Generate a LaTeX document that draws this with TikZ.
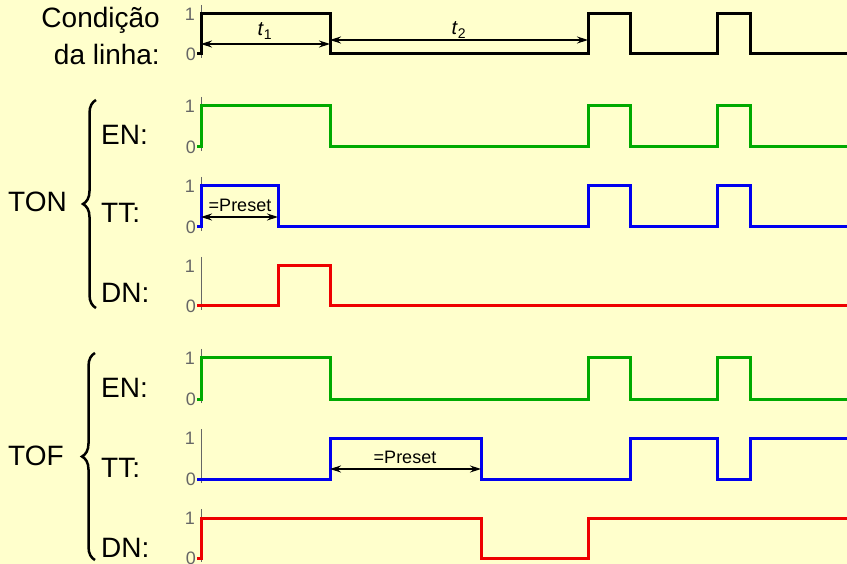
\documentclass[tikz,border=0pt]{standalone}
\usepackage{fontspec}
\setmainfont{Liberation Sans}
\usetikzlibrary{arrows.meta,decorations.pathreplacing}
\definecolor{paper}{HTML}{FFFFCC}
\definecolor{sigGreen}{HTML}{00AA00}
\definecolor{sigBlue}{HTML}{0000EE}
\definecolor{sigRed}{HTML}{EE0000}
\definecolor{axisGray}{HTML}{666666}

% vertical reference axis with its 0/1 levels: #1 = high y, #2 = low y
\newcommand\levelaxis[2]{%
  \draw[axisline] (201,#1-9) -- (201,#2+4);
  \node[level] at (195,#1) {1};
  \node[level] at (196,#2) {0};
}

\begin{document}
\begin{tikzpicture}[x=1pt,y=-1pt,
  wave/.style={line width=3pt, line join=miter},
  axisline/.style={axisGray, line width=0.8pt},
  level/.style={axisGray, font=\fontsize{18}{18}\selectfont, anchor=east, inner sep=0pt},
  siglabel/.style={font=\fontsize{28}{30}\selectfont, anchor=base west, inner sep=0pt},
  grouplabel/.style={font=\fontsize{28}{30}\selectfont, anchor=base west, inner sep=0pt},
  span/.style={{Stealth[length=11pt,width=7pt]}-{Stealth[length=11pt,width=7pt]}, line width=1.2pt},
  spanlabel/.style={font=\fontsize{18}{18}\selectfont, inner sep=1pt},
  groupbrace/.style={decorate, decoration={brace, amplitude=13pt}, line width=2.5pt}
]
\useasboundingbox (0,0) rectangle (847,564);
\fill[paper] (0,0) rectangle (847,564);

% ---------- line condition ----------
\node[font=\fontsize{28}{30}\selectfont, anchor=base east, inner sep=0pt] (cond1) at (160,28) {Condição};
\node[font=\fontsize{28}{30}\selectfont, anchor=base east, inner sep=0pt] (cond2) at (160,65) {da linha:};
\levelaxis{14}{54}
\draw[wave, black] (197,54) -- (201,54) -- (201,14) -- (330,14) -- (330,54) -- (588,54) -- (588,14)
  -- (630,14) -- (630,54) -- (717,54) -- (717,14) -- (750,14) -- (750,54) -- (847,54);
\coordinate (t1a) at (201,44);
\coordinate (t1b) at (330,44);
\coordinate (t2a) at (330,40);
\coordinate (t2b) at (588,40);
\draw[span] (t1a) -- (t1b);
\draw[span] (t2a) -- (t2b);
\node[spanlabel, font=\fontsize{20}{20}\selectfont] (t1) at (265,31) {\textit{t}\textsubscript{1}};
\node[spanlabel, font=\fontsize{20}{20}\selectfont] (t2) at (459,30) {\textit{t}\textsubscript{2}};

% ---------- TON ----------
\node[grouplabel] (ton) at (8,212) {TON};
\draw[groupbrace] (96,308) -- (96,100);
\node[siglabel] (tonEN) at (101,145) {EN:};
\node[siglabel] (tonTT) at (101,223) {TT:};
\node[siglabel] (tonDN) at (101,303) {DN:};

\levelaxis{106}{147}
\draw[wave, sigGreen] (197,147) -- (201,147) -- (201,106) -- (330,106) -- (330,147) -- (588,147) -- (588,106)
  -- (630,106) -- (630,147) -- (717,147) -- (717,106) -- (750,106) -- (750,147) -- (847,147);

\levelaxis{186}{227}
\draw[wave, sigBlue] (197,227) -- (201,227) -- (201,186) -- (278,186) -- (278,227) -- (588,227) -- (588,186)
  -- (630,186) -- (630,227) -- (717,227) -- (717,186) -- (750,186) -- (750,227) -- (847,227);
\coordinate (tonPa) at (201,217);
\coordinate (tonPb) at (278,217);
\draw[span] (tonPa) -- (tonPb);
\node[spanlabel] (tonP) at (240,205) {=Preset};

\levelaxis{266}{306}
\draw[wave, sigRed] (197,306) -- (278,306) -- (278,266) -- (330,266) -- (330,306) -- (847,306);

% ---------- TOF ----------
\node[grouplabel] (tof) at (8,465) {TOF};
\draw[groupbrace] (95,560) -- (95,353);
\node[siglabel] (tofEN) at (101,397) {EN:};
\node[siglabel] (tofTT) at (101,477) {TT:};
\node[siglabel] (tofDN) at (101,557) {DN:};

\levelaxis{358}{399}
\draw[wave, sigGreen] (197,399) -- (201,399) -- (201,358) -- (330,358) -- (330,399) -- (588,399) -- (588,358)
  -- (630,358) -- (630,399) -- (717,399) -- (717,358) -- (750,358) -- (750,399) -- (847,399);

\levelaxis{438}{479}
\draw[wave, sigBlue] (197,479) -- (330,479) -- (330,438) -- (481,438) -- (481,479) -- (630,479) -- (630,438)
  -- (717,438) -- (717,479) -- (750,479) -- (750,438) -- (847,438);
\coordinate (tofPa) at (330,469);
\coordinate (tofPb) at (481,469);
\draw[span] (tofPa) -- (tofPb);
\node[spanlabel] (tofP) at (405,457) {=Preset};

\levelaxis{518}{558}
\draw[wave, sigRed] (197,558) -- (201,558) -- (201,518) -- (481,518) -- (481,558) -- (588,558) -- (588,518) -- (847,518);
\end{tikzpicture}
\end{document}
